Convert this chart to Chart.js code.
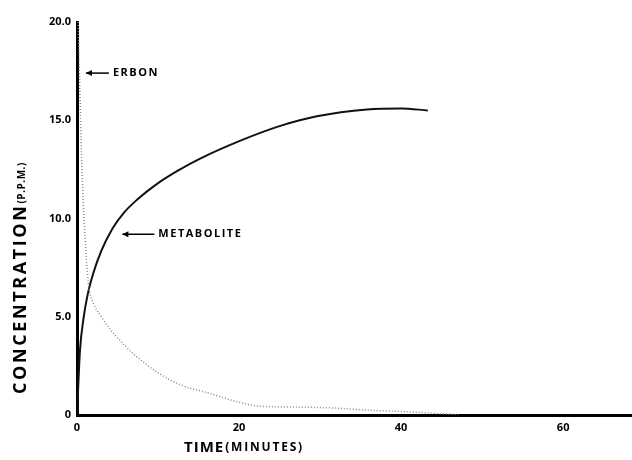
<!DOCTYPE html>
<html>
<head>
<meta charset="utf-8">
<script src="https://cdn.jsdelivr.net/npm/chart.js@4.4.1/dist/chart.umd.min.js"></script>
<style>
  html, body { margin: 0; padding: 0; background: #fff; }
  #wrap { width: 632px; height: 460px; }
</style>
</head>
<body>
<div id="wrap"><canvas id="report" width="632" height="460"></canvas></div>
<script>
// time in minutes, concentration in p.p.m.
var erbonTime = [0.15, 0.3, 0.5, 0.75, 1.0, 1.25, 1.5, 2.0, 3.0, 4.0, 5.3, 7.0, 10.2, 13, 16.4, 19.5, 22.6, 27.5, 32, 35.8, 40, 43.6, 47.3];
var erbonConc = [20, 17.5, 14, 11, 9.0, 7.4, 6.4, 5.7, 5.0, 4.4, 3.8, 3.1, 2.1, 1.5, 1.1, 0.7, 0.45, 0.4, 0.35, 0.25, 0.18, 0.1, 0];

var metaTime = [0, 0.37, 0.8, 1.3, 2.0, 3.0, 4.4, 5.8, 7.4, 10, 12.5, 15.2, 20.1, 25, 29.6, 35.8, 40, 43.3];
var metaConc = [0, 3.3, 4.9, 6.1, 7.2, 8.35, 9.5, 10.3, 10.95, 11.8, 12.45, 13.05, 13.95, 14.7, 15.2, 15.55, 15.6, 15.5];

var xTicks = [0, 20, 40, 60];
var yTicks = [0, 5, 10, 15, 20];

// labels with arrows: [name, arrow tip time, arrow tip conc]
var notes = [
    ['ERBON', 1.1, 17.4],
    ['METABOLITE', 5.6, 9.2]
];

function toPoints(xs, ys) {
    return xs.map(function(x, i) { return { x: x, y: ys[i] }; });
}

var tickFont = { family: '"Open Sans"', size: 11, weight: 'bold' };

// arrows, labels and the two axis titles
var notesPlugin = {
    id: 'notes',
    afterDraw: function(chart) {
        var ctx = chart.ctx;
        var xs = chart.scales.x, ys = chart.scales.y;
        ctx.save();
        ctx.fillStyle = '#000';
        ctx.strokeStyle = '#000';
        ctx.lineWidth = 1.5;
        ctx.textBaseline = 'middle';
        ctx.letterSpacing = '1.5px';
        ctx.font = 'bold 11px "Open Sans"';
        notes.forEach(function(n) {
            var px = xs.getPixelForValue(n[1]);
            var py = ys.getPixelForValue(n[2]);
            var len = n[0] === 'ERBON' ? 23 : 32;
            ctx.beginPath();
            ctx.moveTo(px, py);
            ctx.lineTo(px + len, py);
            ctx.stroke();
            ctx.beginPath();
            ctx.moveTo(px, py);
            ctx.lineTo(px + 6, py - 3);
            ctx.lineTo(px + 6, py + 3);
            ctx.closePath();
            ctx.fill();
            ctx.fillText(n[0], px + len + 4, py);
        });

        // x title
        ctx.textBaseline = 'alphabetic';
        ctx.letterSpacing = '1px';
        ctx.font = 'bold 15px "Open Sans"';
        var tx = 184, ty = 452;
        ctx.fillText('TIME', tx, ty);
        tx += ctx.measureText('TIME').width;
        ctx.font = 'bold 12px "Open Sans"';
        ctx.letterSpacing = '1.8px';
        ctx.fillText('(MINUTES)', tx + 1, ty - 1);

        // y title, rotated
        ctx.translate(26, 394);
        ctx.rotate(-Math.PI / 2);
        ctx.font = 'bold 18px "Open Sans"';
        ctx.letterSpacing = '2.6px';
        ctx.fillText('CONCENTRATION', 0, 0);
        var w = ctx.measureText('CONCENTRATION').width;
        ctx.font = 'bold 10px "Open Sans"';
        ctx.letterSpacing = '0.5px';
        ctx.fillText('(P.P.M.)', w, -1);
        ctx.restore();
    }
};

var ctx = document.getElementById('report').getContext('2d');

var concChart = new Chart(ctx, {
    type: 'scatter',
    data: {
        datasets: [{
            label: 'Erbon',
            data: toPoints(erbonTime, erbonConc),
            showLine: true,
            borderColor: '#8a8a8a',
            borderWidth: 1.5,
            borderDash: [1, 2],
            pointRadius: 0,
            cubicInterpolationMode: 'monotone'
        }, {
            label: 'Metabolite',
            data: toPoints(metaTime, metaConc),
            showLine: true,
            borderColor: '#111',
            borderWidth: 2,
            pointRadius: 0,
            cubicInterpolationMode: 'monotone'
        }]
    },
    options: {
        responsive: false,
        animation: false,
        layout: { padding: { top: 22, right: 0, bottom: 0, left: 0 } },
        plugins: {
            legend: { display: false },
            tooltip: { enabled: false }
        },
        scales: {
            x: {
                type: 'linear',
                min: 0,
                max: 68.5,
                grid: { display: false, drawTicks: false },
                border: { display: true, color: '#000', width: 3 },
                afterBuildTicks: function(scale) {
                    scale.ticks = xTicks.map(function(v) { return { value: v }; });
                },
                afterFit: function(scale) { scale.height = 45; },
                ticks: {
                    color: '#000',
                    font: tickFont,
                    padding: 6,
                    maxRotation: 0,
                    callback: function(v) { return String(v); }
                }
            },
            y: {
                min: 0,
                max: 20,
                grid: { display: false, drawTicks: false },
                border: { display: true, color: '#000', width: 3 },
                afterBuildTicks: function(scale) {
                    scale.ticks = yTicks.map(function(v) { return { value: v }; });
                },
                afterFit: function(scale) { scale.width = 77; },
                ticks: {
                    color: '#000',
                    font: tickFont,
                    padding: 6,
                    callback: function(v) { return v === 0 ? '0' : v.toFixed(1); }
                }
            }
        }
    },
    plugins: [notesPlugin]
});
</script>
</body>
</html>
